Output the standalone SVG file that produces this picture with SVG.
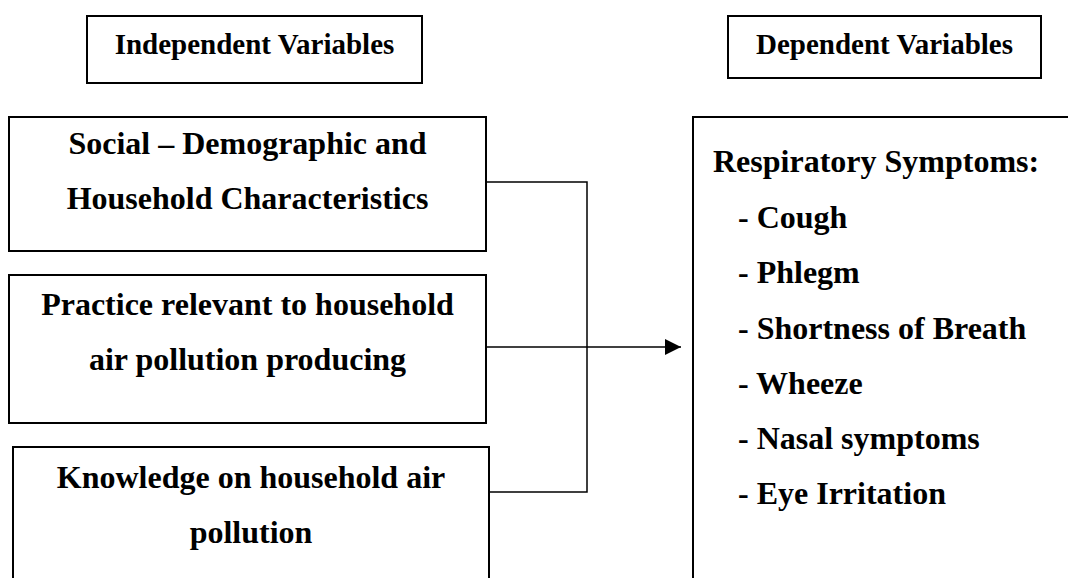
<svg xmlns="http://www.w3.org/2000/svg" width="1068" height="578" viewBox="0 0 1068 578">
<style>
.box{fill:none;stroke:#000;stroke-width:2}
.t{font-family:"Liberation Serif","Times New Roman",serif;font-weight:bold;fill:#000}
.h{font-size:29px;text-anchor:middle}
.b{font-size:32px}
.c{text-anchor:middle}
.conn{fill:none;stroke:#000;stroke-width:1.5}
</style>
<defs>
<marker id="arr" markerWidth="16" markerHeight="16" refX="16" refY="8" orient="auto" markerUnits="userSpaceOnUse" viewBox="0 0 16 16">
<path d="M0,0 L16,8 L0,16 Z" fill="#000"/>
</marker>
</defs>
<rect width="1068" height="578" fill="#fff"/>
<g id="independent-header">
<rect class="box" x="87" y="16" width="335" height="67"/>
<text class="t h" x="254.5" y="54">Independent Variables</text>
</g>
<g id="dependent-header">
<rect class="box" x="728" y="16" width="313" height="62"/>
<text class="t h" x="884.5" y="54">Dependent Variables</text>
</g>
<g id="social">
<rect class="box" x="9" y="117" width="477" height="134"/>
<text class="t b c" x="247.5" y="154">Social – Demographic and</text>
<text class="t b c" x="247.5" y="209">Household Characteristics</text>
</g>
<g id="practice">
<rect class="box" x="9" y="275" width="477" height="148"/>
<text class="t b c" x="247.5" y="315">Practice relevant to household</text>
<text class="t b c" x="247.5" y="370">air pollution producing</text>
</g>
<g id="knowledge">
<path class="box" d="M13,580 V447 H489 V580"/>
<text class="t b c" x="251" y="488">Knowledge on household air</text>
<text class="t b c" x="251" y="543">pollution</text>
</g>
<g id="respiratory">
<path class="box" d="M693,580 V117 H1070"/>
<text class="t b" x="713" y="172">Respiratory Symptoms:</text>
<text class="t b" x="738" y="228">- Cough</text>
<text class="t b" x="738" y="283">- Phlegm</text>
<text class="t b" x="738" y="339">- Shortness of Breath</text>
<text class="t b" x="738" y="394">- Wheeze</text>
<text class="t b" x="738" y="449">- Nasal symptoms</text>
<text class="t b" x="738" y="504">- Eye Irritation</text>
</g>
<g id="connectors">
<path class="conn" d="M487,182 H587 V492 H490"/>
<path class="conn" d="M487,347 H681" marker-end="url(#arr)"/>
</g>
</svg>
